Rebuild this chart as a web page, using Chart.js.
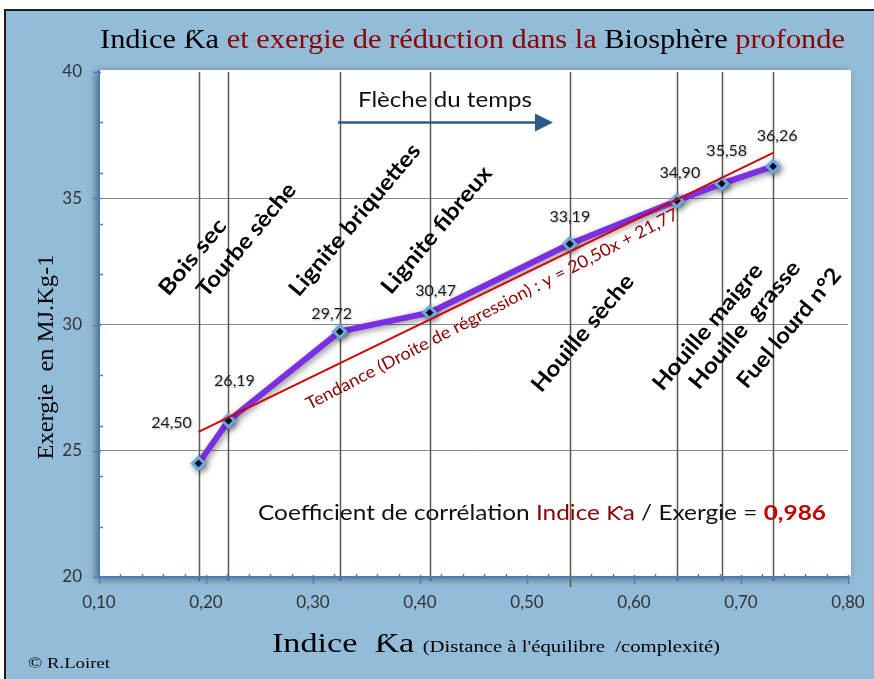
<!DOCTYPE html>
<html>
<head>
<meta charset="utf-8">
<script src="https://cdn.jsdelivr.net/npm/chart.js@4.4.1/dist/chart.umd.min.js"></script>
<style>
html,body{margin:0;padding:0;background:#fff;}
#c{position:absolute;left:0;top:0;}
</style>
</head>
<body>
<canvas id="c" width="874" height="679"></canvas>
<script>
// ---- Data ----
const categories = ["Bois sec", "Tourbe sèche", "Lignite briquettes", "Lignite fibreux", "Houille sèche", "Houille maigre", "Houille  grasse", "Fuel lourd n°2"];
const indiceKa = [0.193, 0.221, 0.325, 0.409, 0.540, 0.640, 0.682, 0.730];
const exergie = [24.50, 26.19, 29.72, 30.47, 33.19, 34.90, 35.58, 36.26];
const valueLabels = ["24,50", "26,19", "29,72", "30,47", "33,19", "34,90", "35,58", "36,26"];
const trendKa = [0.193, 0.730];
const trendExergie = [25.75, 36.80];
const trendLabel = "Tendance (Droite de régression) : y = 20,50x + 21,77";
const xRange = [0.10, 0.80];
const yRange = [20, 40];

// ---- Styling / placement (pixels) ----
const valueLabelOffsets = [[-27,-41],[6,-40],[-8,-18],[6,-22],[0,-27],[3,-28],[5,-33],[4,-31]];
const catPlacement = [ // dx from vertical line, centre y (data units), target length
  [-6, 32.67, 92], [18, 33.35, 141], [15, 34.14, 191], [7, 33.74, 159],
  [13, 29.66, 146], [31, 29.90, 158], [23, 29.98, 160], [16, 29.86, 149]
];
const DARKRED = '#8b0000';

function drawParts(ctx, parts, cx, cy, angle, targetW, baseline) {
  ctx.save();
  ctx.translate(cx, cy);
  ctx.rotate(angle);
  let W = 0;
  const widths = parts.map(p => { ctx.font = p.font; const w = ctx.measureText(p.t).width; W += w; return w; });
  const s = targetW ? targetW / W : 1;
  ctx.scale(s, 1);
  ctx.textBaseline = baseline || 'alphabetic';
  ctx.textAlign = 'left';
  let x = -W / 2;
  parts.forEach((p, i) => { ctx.font = p.font; ctx.fillStyle = p.color; ctx.fillText(p.t, x, 0); x += widths[i]; });
  ctx.restore();
}

const decor = {
  id: 'decor',
  beforeDraw(chart) {
    const ctx = chart.ctx, a = chart.chartArea;
    ctx.save();
    ctx.fillStyle = '#ffffff';
    ctx.fillRect(0, 0, 874, 679);
    ctx.fillStyle = '#93bcd9';
    ctx.fillRect(4, 9, 870, 670);
    ctx.strokeStyle = '#1c1c1c';
    ctx.lineWidth = 2;
    ctx.beginPath();
    ctx.moveTo(5, 679); ctx.lineTo(5, 10); ctx.lineTo(874, 10);
    ctx.stroke();
    // plot area with shadow
    ctx.shadowColor = 'rgba(0,0,0,0.45)';
    ctx.shadowBlur = 8;
    ctx.shadowOffsetX = -3;
    ctx.shadowOffsetY = 2;
    ctx.fillStyle = '#ffffff';
    ctx.fillRect(a.left, a.top - 2, a.right - a.left + 3, a.bottom - a.top + 2);
    ctx.restore();
  },
  beforeDatasetsDraw(chart) {
    const ctx = chart.ctx, xs = chart.scales.x, a = chart.chartArea;
    ctx.save();
    ctx.strokeStyle = '#5d5a47';
    ctx.lineWidth = 1.5;
    indiceKa.forEach((v, i) => {
      const px = Math.round(xs.getPixelForValue(v)) + 0.5;
      ctx.beginPath();
      ctx.moveTo(px, a.top);
      ctx.lineTo(px, a.bottom + (i === 4 ? 10 : 4));
      ctx.stroke();
    });
    ctx.restore();
  },
  beforeDatasetDraw(chart, args) {
    if (args.index === 0) {
      const ctx = chart.ctx;
      ctx.save();
      ctx.shadowColor = 'rgba(0,0,0,0.45)';
      ctx.shadowBlur = 6;
      ctx.shadowOffsetX = 2;
      ctx.shadowOffsetY = 2;
    }
  },
  afterDatasetDraw(chart, args) {
    if (args.index === 0) chart.ctx.restore();
  },
  afterDatasetsDraw(chart) {
    const ctx = chart.ctx, xs = chart.scales.x, ys = chart.scales.y, a = chart.chartArea;
    ctx.save();
    // axes
    ctx.strokeStyle = '#4a7ebb';
    ctx.lineWidth = 2;
    ctx.beginPath();
    ctx.moveTo(a.left, a.top - 2); ctx.lineTo(a.left, a.bottom);
    ctx.lineTo(a.right + 2, a.bottom);
    ctx.stroke();
    ctx.lineWidth = 1.5;
    for (let k = 0; k <= 35; k++) {
      const v = xRange[0] + k * 0.02;
      const px = Math.round(xs.getPixelForValue(v)) + 0.5;
      const major = k % 5 === 0;
      ctx.beginPath();
      ctx.moveTo(px, a.bottom - (major ? 2 : 3));
      ctx.lineTo(px, a.bottom + (major ? 7 : 2));
      ctx.stroke();
    }
    for (let v = yRange[0]; v <= yRange[1]; v++) {
      const py = Math.round(ys.getPixelForValue(v)) + 0.5;
      if (v % 5 === 0) {
        ctx.beginPath(); ctx.moveTo(a.left - 6, py); ctx.lineTo(a.left + 2, py); ctx.stroke();
      } else if (v % 2 === 0) {
        ctx.beginPath(); ctx.moveTo(a.left, py); ctx.lineTo(a.left + 4, py); ctx.stroke();
      }
    }
    // value labels
    ctx.font = '16px Lato';
    ctx.textAlign = 'center';
    ctx.textBaseline = 'middle';
    ctx.shadowColor = 'rgba(0,0,0,0.25)';
    ctx.shadowBlur = 2;
    ctx.shadowOffsetX = 1;
    ctx.shadowOffsetY = 1;
    ctx.fillStyle = '#1a1a1a';
    valueLabels.forEach((t, i) => {
      const px = xs.getPixelForValue(indiceKa[i]), py = ys.getPixelForValue(exergie[i]);
      ctx.fillText(t, px + valueLabelOffsets[i][0], py + valueLabelOffsets[i][1]);
    });
    ctx.shadowColor = 'transparent';
    // category labels
    categories.forEach((t, i) => {
      const p = catPlacement[i];
      const cx = xs.getPixelForValue(indiceKa[i]) + p[0];
      const cy = ys.getPixelForValue(p[1]);
      drawParts(ctx, [{t, font: 'bold 22px Lato', color: '#000'}], cx, cy, -50 * Math.PI / 180, p[2], 'middle');
    });
    // trend label
    drawParts(ctx, [{t: trendLabel, font: '17px Lato', color: DARKRED}],
      xs.getPixelForValue(0.4673), ys.getPixelForValue(30.61), -27.4 * Math.PI / 180, 417, 'middle');
    // arrow of time
    drawParts(ctx, [{t: 'Flèche du temps', font: '21px Lato', color: '#111'}], 445, 107, 0, 174);
    ctx.strokeStyle = '#2b5a8a';
    ctx.fillStyle = '#2b5a8a';
    ctx.lineWidth = 2.5;
    ctx.beginPath(); ctx.moveTo(338, 122.5); ctx.lineTo(537, 122.5); ctx.stroke();
    ctx.beginPath(); ctx.moveTo(535, 113.5); ctx.lineTo(553, 122.5); ctx.lineTo(535, 131.5); ctx.closePath(); ctx.fill();
    // correlation
    drawParts(ctx, [
      {t: 'Coefficient de corrélation ', font: '21px Lato', color: '#111'},
      {t: 'Indice ', font: '21px Lato', color: DARKRED},
      {t: 'Ƙ', font: '19px "DejaVu Sans"', color: DARKRED},
      {t: 'a', font: '21px Lato', color: DARKRED},
      {t: ' / Exergie = ', font: '21px Lato', color: '#111'},
      {t: '0,986', font: 'bold 21px Lato', color: '#c00000'}
    ], 542, 520, 0, 568);
    ctx.restore();
  },
  afterDraw(chart) {
    const ctx = chart.ctx;
    drawParts(ctx, [
      {t: 'Indice Ƙa ', font: '28px "Liberation Serif"', color: '#000'},
      {t: 'et exergie de réduction dans la ', font: '28px "Liberation Serif"', color: DARKRED},
      {t: 'Biosphère ', font: '28px "Liberation Serif"', color: '#000'},
      {t: 'profonde', font: '28px "Liberation Serif"', color: DARKRED}
    ], 472.5, 48, 0, 745);
    drawParts(ctx, [
      {t: 'Indice  Ƙa ', font: '28px "Liberation Serif"', color: '#000'},
      {t: "(Distance à l'équilibre  /complexité)", font: '17px "Liberation Serif"', color: '#000'}
    ], 496, 652, 0, 448);
    drawParts(ctx, [{t: 'Exergie  en MJ.Kg-1', font: '23px "Liberation Serif"', color: '#000'}], 53, 357, -Math.PI / 2, 205);
    drawParts(ctx, [{t: '© R.Loiret', font: '15px "Liberation Serif"', color: '#000'}], 69, 668, 0, 82);
  }
};

const fmt = v => Number(v).toFixed(2).replace('.', ',');

new Chart(document.getElementById('c'), {
  type: 'scatter',
  data: {
    datasets: [
      {
        data: indiceKa.map((x, i) => ({x, y: exergie[i]})),
        showLine: true,
        borderColor: '#7b2fe3',
        borderWidth: 6,
        pointStyle: 'rectRot',
        pointRadius: 6,
        pointBackgroundColor: '#111',
        pointBorderColor: '#6aa6e8',
        pointBorderWidth: 3,
        order: 1
      },
      {
        data: trendKa.map((x, i) => ({x, y: trendExergie[i]})),
        showLine: true,
        borderColor: '#d00000',
        borderWidth: 2,
        pointRadius: 0,
        order: 0
      }
    ]
  },
  options: {
    responsive: false,
    animation: false,
    devicePixelRatio: 1,
    layout: {padding: {left: 0, top: 72, right: 26, bottom: 0}},
    plugins: {legend: {display: false}, tooltip: {enabled: false}},
    scales: {
      x: {
        type: 'linear', min: xRange[0], max: xRange[1],
        ticks: {stepSize: 0.1, callback: v => fmt(v), color: '#333', font: {family: 'Lato', size: 17}, padding: 15, maxRotation: 0},
        grid: {display: false, drawTicks: false},
        border: {display: false},
        afterFit: s => { s.height = 102; s.paddingLeft = 0; s.paddingRight = 0; }
      },
      y: {
        type: 'linear', min: yRange[0], max: yRange[1],
        ticks: {stepSize: 5, color: '#333', font: {family: 'Lato', size: 17}, padding: 17},
        grid: {drawTicks: false, lineWidth: 1, color: c => (c.tick && c.tick.value > yRange[0] && c.tick.value < yRange[1]) ? '#8a8a8a' : 'rgba(0,0,0,0)'},
        border: {display: false},
        afterFit: s => { s.width = 99; s.paddingTop = 0; s.paddingBottom = 0; }
      }
    }
  },
  plugins: [decor]
});
</script>
</body>
</html>
